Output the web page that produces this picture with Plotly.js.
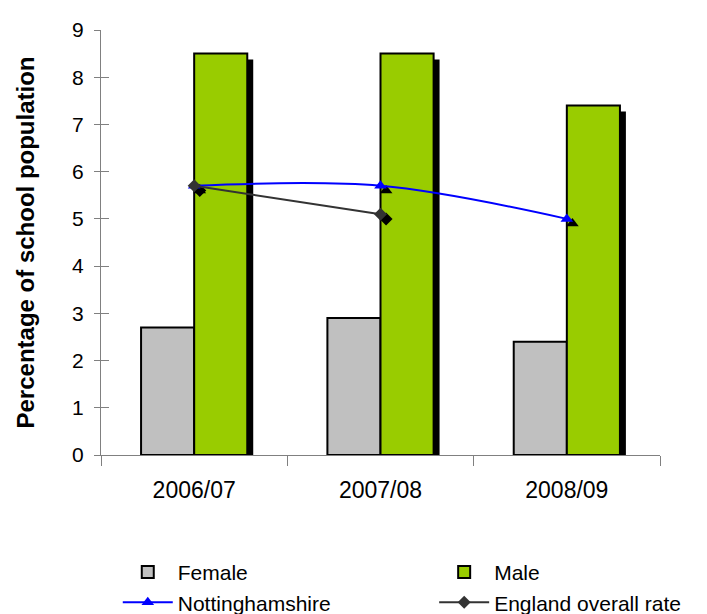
<!DOCTYPE html>
<html>
<head>
<meta charset="utf-8">
<script src="https://cdn.plot.ly/plotly-3.0.1.min.js"></script>
<style>html,body{margin:0;padding:0;background:#fff;}#chart{width:707px;height:614px;}</style>
</head>
<body>
<div id="chart"></div>
<script>
const categories = ["2006/07", "2007/08", "2008/09"];
const female = [2.7, 2.9, 2.4];
const male = [8.5, 8.5, 7.4];
const nottinghamshire = [5.7, 5.7, 5.0];
const england = [5.7, 5.1, null];

const FONT = "Liberation Sans, Arial, sans-serif";
const barW = 0.285;
const shX = 0.032, shY = 0.125;
const xr = [-0.5, 2.5], yr = [0, 9];

const data = [
  // bar shadows (base, shifted axes)
  {type: "bar", x: categories, y: male, xaxis: "x", yaxis: "y", offset: 0, width: barW,
   marker: {color: "#000000", line: {width: 0}}, showlegend: false, hoverinfo: "skip"},
  // real bars
  {type: "bar", name: "Female", x: categories, y: female, xaxis: "x2", yaxis: "y2", offset: -barW, width: barW,
   marker: {color: "#C0C0C0", line: {color: "#000000", width: 2}}, legend: "legend"},
  {type: "bar", name: "Male", x: categories, y: male, xaxis: "x2", yaxis: "y2", offset: 0, width: barW,
   marker: {color: "#99CC00", line: {color: "#000000", width: 2}}, legend: "legend2"},
  // marker shadows
  {type: "scatter", mode: "markers", x: categories, y: nottinghamshire, xaxis: "x3", yaxis: "y3",
   marker: {symbol: "triangle-up", size: 11, color: "#000000"}, showlegend: false, hoverinfo: "skip"},
  {type: "scatter", mode: "markers", x: categories, y: england, xaxis: "x3", yaxis: "y3",
   marker: {symbol: "diamond", size: 10, color: "#000000"}, showlegend: false, hoverinfo: "skip"},
  // lines
  {type: "scatter", mode: "lines+markers", name: "Nottinghamshire", x: categories, y: nottinghamshire,
   xaxis: "x4", yaxis: "y4", line: {color: "#0000FF", width: 2, shape: "spline"},
   marker: {symbol: "triangle-up", size: 11, color: "#0000FF"}, legend: "legend"},
  {type: "scatter", mode: "lines+markers", name: "England overall rate", x: categories, y: england,
   xaxis: "x4", yaxis: "y4", line: {color: "#333333", width: 2},
   marker: {symbol: "diamond", size: 10, color: "#333333"}, legend: "legend2"}
];

const hidden = {showgrid: false, zeroline: false, showline: false, showticklabels: false, ticks: "", fixedrange: true};
const legendBase = {orientation: "v", xanchor: "left", y: -0.228, yanchor: "top",
  font: {size: 21, family: FONT}, traceorder: "normal", itemwidth: 50,
  bgcolor: "rgba(0,0,0,0)", tracegroupgap: 0};

const layout = {
  width: 707, height: 614,
  margin: {l: 101, r: 47, t: 30, b: 159, autoexpand: false},
  paper_bgcolor: "#ffffff", plot_bgcolor: "rgba(0,0,0,0)",
  barmode: "overlay",
  font: {family: FONT, color: "#000000"},
  xaxis: Object.assign({type: "category", range: [xr[0] - shX, xr[1] - shX]}, hidden),
  yaxis: Object.assign({range: [yr[0] + shY, yr[1] + shY]}, hidden),
  xaxis2: {type: "category", overlaying: "x", range: xr, showgrid: false, zeroline: false,
    showline: true, linecolor: "#808080", linewidth: 1, ticks: "outside", ticklen: 10,
    tickcolor: "#808080", tickson: "boundaries", tickfont: {size: 23, family: FONT}, ticklabelstandoff: 14},
  yaxis2: {overlaying: "y", range: yr, dtick: 1, showgrid: false, zeroline: false,
    showline: true, linecolor: "#808080", linewidth: 1, ticks: "outside", ticklen: 6, tickcolor: "#808080",
    tickfont: {size: 21, family: FONT}, ticklabelstandoff: 6,
    title: {text: "Percentage of school population", font: {size: 24, family: FONT, weight: "bold"}, standoff: 30}},
  xaxis3: Object.assign({type: "category", overlaying: "x", range: [xr[0] - 0.03, xr[1] - 0.03]}, hidden),
  yaxis3: Object.assign({overlaying: "y", range: [yr[0] + 0.1, yr[1] + 0.1]}, hidden),
  xaxis4: Object.assign({type: "category", overlaying: "x", range: xr}, hidden),
  yaxis4: {overlaying: "y", range: yr, dtick: 1, showgrid: false, zeroline: false, showline: false,
    showticklabels: false, ticks: "inside", ticklen: 8, tickcolor: "#808080"},
  legend: Object.assign({x: 0.03}, legendBase),
  legend2: Object.assign({x: 0.596}, legendBase),
  showlegend: true
};

Plotly.newPlot("chart", data, layout, {displayModeBar: false, staticPlot: true});
</script>
</body>
</html>
